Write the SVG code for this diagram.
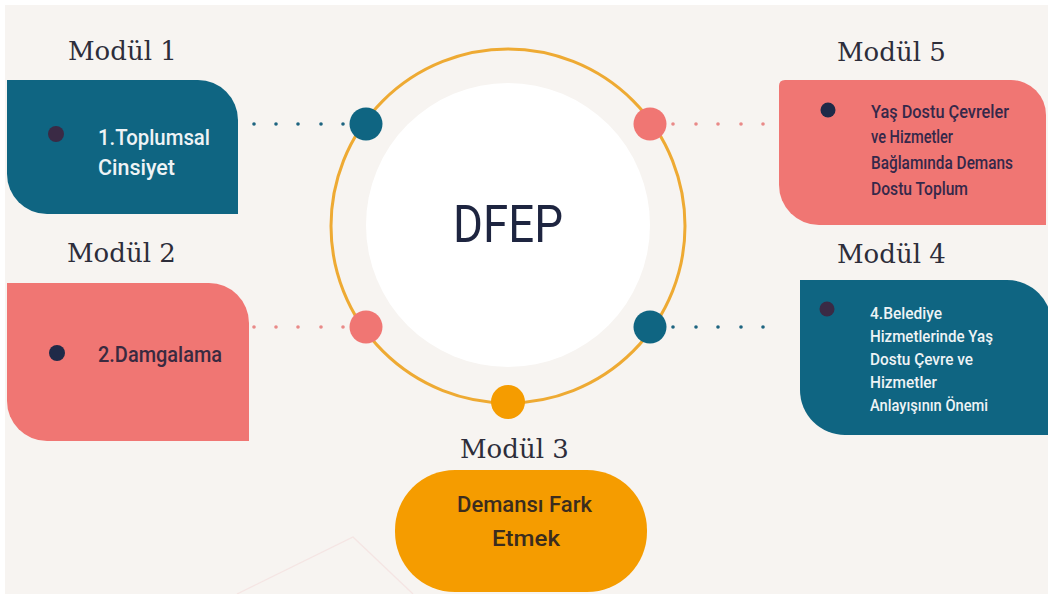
<svg xmlns="http://www.w3.org/2000/svg" width="1048" height="594" viewBox="0 0 1048 594">
<style>
.lbl{font-family:"DejaVu Serif","Liberation Serif",serif;font-size:26px;fill:#2d2d3a}
.t{font-family:Roboto,"Liberation Sans",sans-serif;font-weight:500}
.w{fill:#eef3f5}
.dk{fill:#3a2a40}
.teal{fill:#0f6582}
.pink{fill:#f07673}
.orng{fill:#f59c00}
.dt{fill:#1d6480}
.dp{fill:#e98a88}
</style>
<rect width="1048" height="594" fill="#f7f4f1"/>
<rect width="1048" height="5" fill="#ffffff"/>
<rect width="5" height="594" fill="#ffffff"/>
<polyline points="237,594 353,537 413,594" fill="none" stroke="#f3d6d6" stroke-width="1.2" opacity="0.5"/>

<g id="hub">
<circle cx="508" cy="226" r="177" fill="none" stroke="#eeaa33" stroke-width="3"/>
<circle cx="508" cy="225" r="142" fill="#ffffff"/>
<text x="508" y="242" text-anchor="middle" font-family="Roboto,'Liberation Sans',sans-serif" font-size="52" fill="#1e2540" textLength="110" lengthAdjust="spacingAndGlyphs">DFEP</text>
</g>

<g id="connectors">
<g class="dt">
<circle cx="254" cy="124" r="1.8"/><circle cx="276" cy="124" r="1.8"/><circle cx="298" cy="124" r="1.8"/><circle cx="321" cy="124" r="1.8"/><circle cx="343" cy="124" r="1.8"/>
<circle cx="673" cy="327" r="1.8"/><circle cx="696" cy="327" r="1.8"/><circle cx="718" cy="327" r="1.8"/><circle cx="741" cy="327" r="1.8"/><circle cx="763" cy="327" r="1.8"/>
</g>
<g class="dp">
<circle cx="254" cy="327" r="1.8"/><circle cx="276" cy="327" r="1.8"/><circle cx="298" cy="327" r="1.8"/><circle cx="321" cy="327" r="1.8"/><circle cx="343" cy="327" r="1.8"/>
<circle cx="673" cy="124" r="1.8"/><circle cx="696" cy="124" r="1.8"/><circle cx="718" cy="124" r="1.8"/><circle cx="741" cy="124" r="1.8"/><circle cx="763" cy="124" r="1.8"/>
</g>
<circle class="teal" cx="366" cy="124" r="16.5"/>
<circle class="pink" cx="650" cy="124" r="16.5"/>
<circle class="pink" cx="366" cy="327" r="16.5"/>
<circle class="teal" cx="650" cy="327" r="16.5"/>
<circle class="orng" cx="508" cy="402" r="17"/>
</g>

<g id="modul1">
<text class="lbl" x="68" y="60">Modül 1</text>
<path class="teal" d="M7,80 H198 A40,40 0 0 1 238,120 V214 H47 A40,40 0 0 1 7,174 Z"/>
<circle cx="56" cy="134" r="8" fill="#3a2a45"/>
<text class="t w" font-size="22" x="98" y="145" textLength="112" lengthAdjust="spacingAndGlyphs">1.Toplumsal</text>
<text class="t w" font-size="22" x="98" y="175" textLength="77" lengthAdjust="spacingAndGlyphs">Cinsiyet</text>
</g>

<g id="modul2">
<text class="lbl" x="67" y="262">Modül 2</text>
<path class="pink" d="M7,283 H209 A40,40 0 0 1 249,323 V441 H47 A40,40 0 0 1 7,401 Z"/>
<circle cx="57" cy="353" r="8" fill="#1f2a48"/>
<text class="t dk" font-size="22" x="98" y="362" textLength="124" lengthAdjust="spacingAndGlyphs">2.Damgalama</text>
</g>

<g id="modul3">
<text class="lbl" x="460" y="458">Modül 3</text>
<rect class="orng" x="395" y="470" width="252" height="122" rx="60" ry="60"/>
<text class="t" fill="#3b2c1e" font-size="22" x="457" y="512" textLength="135" lengthAdjust="spacingAndGlyphs">Demansı Fark</text>
<text class="t" fill="#3b2c1e" font-size="22" x="492" y="546" textLength="68" lengthAdjust="spacingAndGlyphs">Etmek</text>
</g>

<g id="modul4">
<text class="lbl" x="837" y="263">Modül 4</text>
<path class="teal" d="M800,280 H1007 A45,45 0 0 1 1052,325 V435 H845 A45,45 0 0 1 800,390 Z"/>
<circle cx="827" cy="309" r="7.5" fill="#3a2a45"/>
<g class="t w" font-size="16">
<text x="870" y="319" textLength="72" lengthAdjust="spacingAndGlyphs">4.Belediye</text>
<text x="870" y="342" textLength="123" lengthAdjust="spacingAndGlyphs">Hizmetlerinde Yaş</text>
<text x="870" y="365" textLength="103" lengthAdjust="spacingAndGlyphs">Dostu Çevre ve</text>
<text x="870" y="388" textLength="67" lengthAdjust="spacingAndGlyphs">Hizmetler</text>
<text x="870" y="411" textLength="118" lengthAdjust="spacingAndGlyphs">Anlayışının Önemi</text>
</g>
</g>

<g id="modul5">
<text class="lbl" x="837" y="61">Modül 5</text>
<path class="pink" d="M785,80 H1011 A35,35 0 0 1 1046,115 V225 H819 A40,40 0 0 1 779,185 V86 Q779,80 785,80 Z"/>
<circle cx="828" cy="110" r="7.5" fill="#1f2a48"/>
<g class="t" fill="#35284a" font-size="18">
<text x="871" y="118" textLength="138" lengthAdjust="spacingAndGlyphs">Yaş Dostu Çevreler</text>
<text x="871" y="143" textLength="82" lengthAdjust="spacingAndGlyphs">ve Hizmetler</text>
<text x="871" y="169" textLength="142" lengthAdjust="spacingAndGlyphs">Bağlamında Demans</text>
<text x="871" y="195" textLength="97" lengthAdjust="spacingAndGlyphs">Dostu Toplum</text>
</g>
</g>
</svg>
